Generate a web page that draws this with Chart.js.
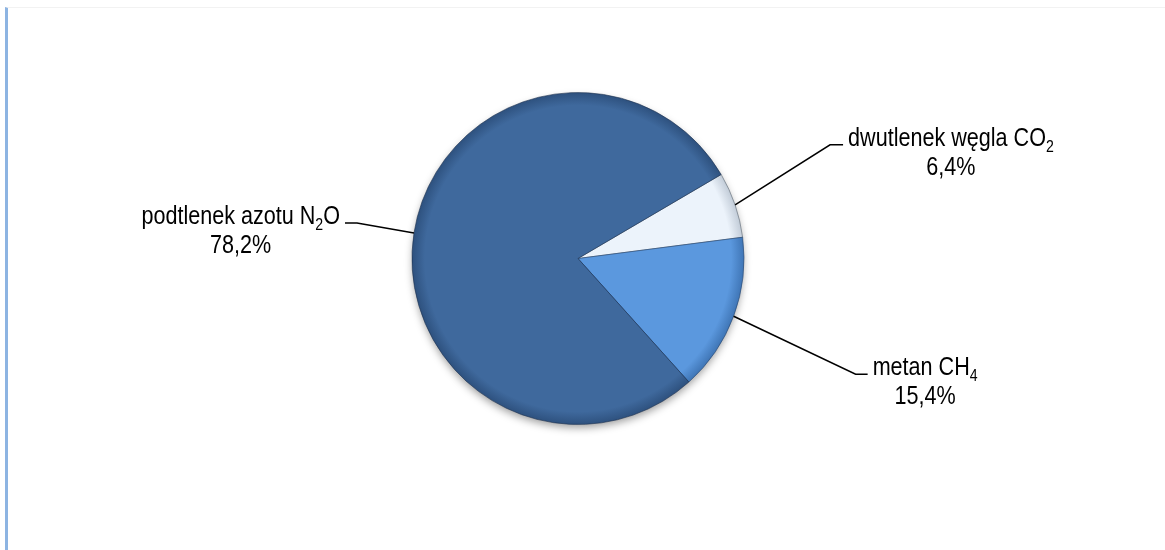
<!DOCTYPE html>
<html>
<head>
<meta charset="utf-8">
<script src="https://cdn.jsdelivr.net/npm/chart.js@4/dist/chart.umd.min.js"></script>
<style>
  html, body { margin: 0; padding: 0; background: #fff; }
  #frame {
    position: absolute; left: 5px; top: 7px; width: 1160px; height: 543px;
    border-left: 3px solid #8DB4E2; border-top: 1px solid #F2F2F2; box-sizing: border-box;
  }
  #c { position: absolute; left: 0; top: 0; }
</style>
</head>
<body>
<div id="frame"></div>
<canvas id="c" width="1165" height="550"></canvas>
<script>
// Gas shares (%), in drawing order starting from the CO2 slice
const categories = ['dwutlenek węgla CO₂', 'metan CH₄', 'podtlenek azotu N₂O'];
const shares = [6.4, 15.4, 78.2];
const percentLabels = ['6,4%', '15,4%', '78,2%'];

// Label first lines, split into [text, isSubscript] runs
const labelRuns = [
  [['dwutlenek węgla CO', false], ['2', true]],
  [['metan CH', false], ['4', true]],
  [['podtlenek azotu N', false], ['2', true], ['O', false]]
];

const sliceColors = ['#ECF3FB', '#5B98DE', '#3F699D'];
const rimColors   = ['#C0CAD6', '#3E74B4', '#2D507D'];
const edgeColors  = ['rgba(120,130,140,0.8)', 'rgba(40,70,110,0.6)', 'rgba(30,50,80,0.6)'];

// Leader line geometry: elbow offset from the slice edge, then a short horizontal run
const leaders = [
  { dx: 95,  dy: -60, run: 13 },
  { dx: 122, dy: 58,  run: 12 },
  { dx: -57, dy: -10, run: -12 }
];

const FONT_FAMILY = '"Liberation Sans", Arial, sans-serif';
const FONT_SIZE = 26;
const SQUEEZE = 0.83;     // condensed face
const LINE_GAP = 29;

function runFont(sub) {
  return (sub ? Math.round(FONT_SIZE * 0.64) : FONT_SIZE) + 'px ' + FONT_FAMILY;
}
function runsWidth(ctx, runs) {
  let w = 0;
  runs.forEach(([t, sub]) => { ctx.font = runFont(sub); w += ctx.measureText(t).width * SQUEEZE; });
  return w;
}
function drawRuns(ctx, runs, x, baseline) {
  ctx.save();
  ctx.translate(x, baseline);
  ctx.scale(SQUEEZE, 1);
  let cx = 0;
  runs.forEach(([t, sub]) => {
    ctx.font = runFont(sub);
    ctx.fillText(t, cx, sub ? 6 : 0);
    cx += ctx.measureText(t).width;
  });
  ctx.restore();
}

function sliceFill(context) {
  const i = context.dataIndex;
  const chart = context.chart;
  const area = chart.chartArea;
  if (!area) return sliceColors[i];
  const cx = (area.left + area.right) / 2, cy = (area.top + area.bottom) / 2;
  const r = Math.min(area.right - area.left, area.bottom - area.top) / 2;
  const g = chart.ctx.createRadialGradient(cx, cy, 0, cx, cy, r);
  g.addColorStop(0, sliceColors[i]);
  g.addColorStop(0.92, sliceColors[i]);
  g.addColorStop(1, rimColors[i]);
  return g;
}

const shadowPlugin = {
  id: 'pieShadow',
  beforeDatasetsDraw(chart) {
    const arc = chart.getDatasetMeta(0).data[0];
    if (!arc) return;
    const { x, y, outerRadius } = arc.getProps(['x', 'y', 'outerRadius'], true);
    const ctx = chart.ctx;
    ctx.save();
    ctx.shadowColor = 'rgba(0,0,0,0.4)';
    ctx.shadowBlur = 9;
    ctx.shadowOffsetY = 4;
    ctx.fillStyle = '#3F699D';
    ctx.beginPath();
    ctx.arc(x, y, outerRadius - 1, 0, Math.PI * 2);
    ctx.fill();
    ctx.restore();
  }
};

const leaderPlugin = {
  id: 'leaders',
  afterDatasetsDraw(chart) {
    const ctx = chart.ctx;
    chart.getDatasetMeta(0).data.forEach((arc, i) => {
      const { x, y, startAngle, endAngle, outerRadius } =
        arc.getProps(['x', 'y', 'startAngle', 'endAngle', 'outerRadius'], true);
      const mid = (startAngle + endAngle) / 2;
      const sx = x + Math.cos(mid) * outerRadius;
      const sy = y + Math.sin(mid) * outerRadius;
      const L = leaders[i];
      const ex = sx + L.dx, ey = sy + L.dy, hx = ex + L.run;

      ctx.save();
      ctx.strokeStyle = '#000';
      ctx.lineWidth = 1.5;
      ctx.beginPath();
      ctx.moveTo(sx, sy);
      ctx.lineTo(ex, ey);
      ctx.lineTo(hx, ey);
      ctx.stroke();

      ctx.fillStyle = '#000';
      ctx.textBaseline = 'alphabetic';
      const w = runsWidth(ctx, labelRuns[i]);
      const left = L.run > 0 ? hx + 5 : hx - 5 - w;
      drawRuns(ctx, labelRuns[i], left, ey + 1);
      ctx.font = FONT_SIZE + 'px ' + FONT_FAMILY;
      const pw = ctx.measureText(percentLabels[i]).width * SQUEEZE;
      drawRuns(ctx, [[percentLabels[i], false]], left + (w - pw) / 2, ey + 1 + LINE_GAP);
      ctx.restore();
    });
  }
};

new Chart(document.getElementById('c'), {
  type: 'pie',
  data: {
    labels: categories,
    datasets: [{
      data: shares,
      backgroundColor: sliceFill,
      borderColor: edgeColors,
      borderWidth: 1
    }]
  },
  options: {
    responsive: false,
    animation: false,
    rotation: 59.6,
    layout: { padding: { left: 411.5, right: 420.5, top: 92, bottom: 125 } },
    plugins: { legend: { display: false }, tooltip: { enabled: false } },
    events: []
  },
  plugins: [shadowPlugin, leaderPlugin]
});
</script>
</body>
</html>
